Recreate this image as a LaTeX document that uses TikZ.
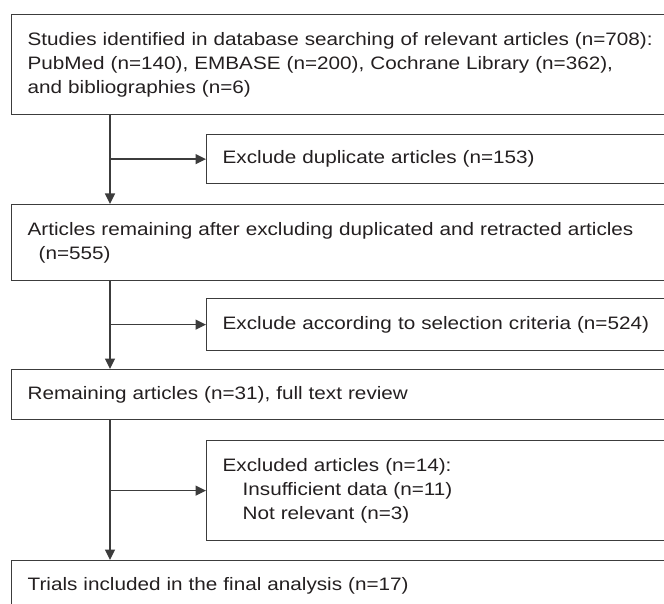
\documentclass[tikz,border=0pt]{standalone}
\usepackage{fontspec}
\setmainfont{Liberation Sans}[FakeStretch=1.15]
\usetikzlibrary{arrows.meta}
\definecolor{linegray}{RGB}{60,60,60}
\definecolor{textblack}{RGB}{35,31,32}
\begin{document}
\begin{tikzpicture}[x=1pt,y=1pt,
  box/.style={draw=linegray, line width=1.3pt, anchor=north west, text width=700pt,
    inner xsep=16pt, inner ysep=0pt, align=left, text=textblack, font=\fontsize{18}{24}\selectfont},
  sidebox/.style={box},
  arr/.style={draw=linegray, line width=1.3pt, -{Triangle[length=10.5pt,width=10pt]}}]
        \useasboundingbox (0,0) rectangle (664,-604);
        \clip (0,0) rectangle (664,-604);
        \node[box, minimum height=100] (ident) at (11,-14) {Studies identified in database searching of relevant articles (n=708):\\PubMed (n=140), EMBASE (n=200), Cochrane Library (n=362),\\and bibliographies (n=6)};
        \node[sidebox, minimum height=49] (dupl) at (206,-134) {Exclude duplicate articles (n=153)};
        \node[box, minimum height=76] (remain) at (11,-204) {Articles remaining after excluding duplicated and retracted articles\\\hspace*{11pt}(n=555)};
        \node[sidebox, minimum height=52] (crit) at (206,-298) {Exclude according to selection criteria (n=524)};
        \node[box, minimum height=50] (review) at (11,-369) {Remaining articles (n=31), full text review};
        \node[sidebox, minimum height=100] (excl) at (206,-440) {Excluded articles (n=14):\\\hspace*{20pt}Insufficient data (n=11)\\\hspace*{20pt}Not relevant (n=3)};
        \node[box, minimum height=50] (final) at (11,-560) {Trials included in the final analysis (n=17)};
        \coordinate (trunk) at (110,0);
        \draw[arr] (ident.south -| trunk) -- (remain.north -| trunk);
        \draw[arr] (dupl.west -| trunk) -- (dupl.west);
        \draw[arr] (remain.south -| trunk) -- (review.north -| trunk);
        \draw[arr] (crit.west -| trunk) -- (crit.west);
        \draw[arr] (review.south -| trunk) -- (final.north -| trunk);
        \draw[arr] (excl.west -| trunk) -- (excl.west);
        \end{tikzpicture}
\end{document}
